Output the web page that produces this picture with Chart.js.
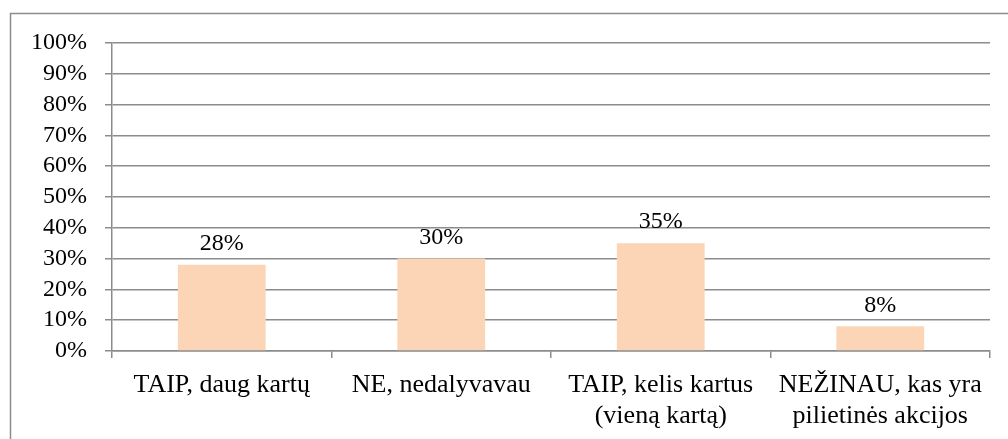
<!DOCTYPE html>
<html>
<head>
<meta charset="utf-8">
<script src="https://cdn.jsdelivr.net/npm/chart.js@4.4.1/dist/chart.umd.min.js"></script>
<style>
  html, body { margin: 0; padding: 0; background: #fff; overflow: hidden; }
  #wrap { position: relative; width: 1008px; height: 439px; }
</style>
</head>
<body>
<div id="wrap"><canvas id="chart"></canvas></div>
<script>
// Data
const categories = [
    ['TAIP, daug kartų'],
    ['NE, nedalyvavau'],
    ['TAIP, kelis kartus', '(vieną kartą)'],
    ['NEŽINAU, kas yra', 'pilietinės akcijos']
];
const shares = [28, 30, 35, 8];
const yTicks = [0, 10, 20, 30, 40, 50, 60, 70, 80, 90, 100];

const FONT = "'Liberation Serif', 'Times New Roman', serif";
const GRID = '#8c8c8c';

// outer frame like the Excel chart area
const framePlugin = {
    id: 'frame',
    beforeDraw(chart) {
        const ctx = chart.ctx;
        ctx.save();
        ctx.strokeStyle = '#8c8c8c';
        ctx.lineWidth = 1.5;
        ctx.strokeRect(10.5, 13.5, 1200, 600);
        ctx.restore();
    }
};

// value labels above each bar
const valueLabels = {
    id: 'valueLabels',
    afterDatasetsDraw(chart) {
        const ctx = chart.ctx;
        const meta = chart.getDatasetMeta(0);
        ctx.save();
        ctx.font = '24px ' + FONT;
        ctx.fillStyle = '#000';
        ctx.textAlign = 'center';
        ctx.textBaseline = 'middle';
        meta.data.forEach((bar, i) => {
            ctx.fillText(shares[i] + '%', bar.x, bar.y - 21);
        });
        ctx.restore();
    }
};

new Chart(document.getElementById('chart'), {
    type: 'bar',
    data: {
        labels: categories,
        datasets: [{
            data: shares,
            backgroundColor: '#FBD5B5',
            borderWidth: 0,
            categoryPercentage: 1,
            barPercentage: 0.4
        }]
    },
    options: {
        responsive: true,
        maintainAspectRatio: false,
        animation: false,
        layout: { padding: { left: 10, top: 43, right: 18, bottom: 0 } },
        plugins: {
            legend: { display: false },
            tooltip: { enabled: false }
        },
        scales: {
            y: {
                min: 0,
                max: 100,
                afterBuildTicks: (scale) => {
                    scale.ticks = yTicks.map(v => ({ value: v }));
                },
                afterFit: (scale) => { scale.width = 102; },
                ticks: {
                    color: '#000',
                    padding: 18,
                    autoSkip: false,
                    font: { family: FONT, size: 24 },
                    callback: (v) => v + '%'
                },
                grid: { color: GRID, lineWidth: 1.5, tickLength: 7 },
                border: { color: GRID, width: 1.5 }
            },
            x: {
                afterFit: (scale) => { scale.height = 88; },
                ticks: {
                    color: '#000',
                    padding: 11,
                    maxRotation: 0,
                    autoSkip: false,
                    font: { family: FONT, size: 26, lineHeight: 1.22 }
                },
                grid: {
                    offset: true,
                    drawOnChartArea: false,
                    drawTicks: true,
                    tickLength: 7,
                    color: GRID,
                    lineWidth: 1.5
                },
                border: { color: GRID, width: 1.5 }
            }
        }
    },
    plugins: [framePlugin, valueLabels]
});
</script>
</body>
</html>
